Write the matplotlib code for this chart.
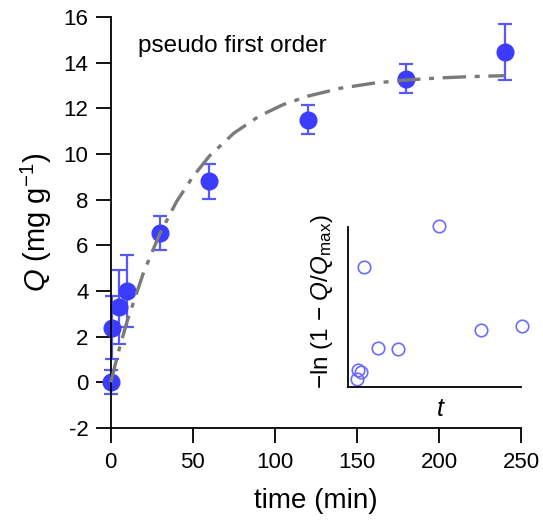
import matplotlib
matplotlib.use("Agg")
import matplotlib.pyplot as plt
import numpy as np

plt.rcParams['font.family'] = ['Liberation Sans', 'DejaVu Sans']
plt.rcParams['mathtext.fontset'] = 'custom'
plt.rcParams['mathtext.rm'] = 'Liberation Sans'
plt.rcParams['mathtext.it'] = 'Liberation Sans:italic'
plt.rcParams['axes.unicode_minus'] = False

# measured uptake Q (mg/g) vs time (min)
time_min = [0, 1, 5, 10, 30, 60, 120, 180, 240]
Q = [0.0, 2.4, 3.3, 4.0, 6.55, 8.8, 11.5, 13.3, 14.45]
Q_err = [0.52, 1.4, 1.6, 1.58, 0.75, 0.75, 0.64, 0.64, 1.23]

# pseudo first order fit curve
fit_t = [0, 5, 10, 20, 30, 40, 50, 60, 75, 90, 105, 120, 140, 160, 180, 200, 220, 240]
fit_Q = [0.0, 1.41, 2.67, 4.81, 6.52, 7.90, 9.0, 9.9, 10.91, 11.64, 12.16, 12.53,
         12.88, 13.1, 13.24, 13.33, 13.39, 13.43]

# inset: -ln(1 - Q/Qmax) vs t (arbitrary units)
inset_t = [0, 1, 5, 10, 30, 60, 120, 180, 240]
inset_y = [0.0, 0.18, 0.13, 2.23, 0.61, 0.60, 3.06, 0.97, 1.05]

blue = "#3c3cff"
fig = plt.figure(figsize=(5.43, 5.24), dpi=100)
ax = fig.add_axes([0.2039, 0.1832, 0.7556, 0.7844])

ax.plot(fit_t, fit_Q, color="#7a7a7a", linewidth=2.4, dashes=(7.0, 2.6, 1.5, 2.6),
        dash_capstyle="butt", zorder=3, clip_on=False)
ax.errorbar(time_min, Q, yerr=Q_err, fmt="o", color=blue, ecolor="#5858ff",
            markersize=12, elinewidth=1.6, capsize=4.8, capthick=1.6,
            zorder=2, clip_on=False)

ax.set_xlim(0, 250)
ax.set_ylim(-2, 16)
ax.set_xticks([0, 50, 100, 150, 200, 250])
ax.set_yticks(np.arange(-2, 17, 2))
for s in ["top", "right"]:
    ax.spines[s].set_visible(False)
for s in ["left", "bottom"]:
    ax.spines[s].set_linewidth(1.3)
ax.tick_params(direction="out", length=11, width=1.3, labelsize=16, pad=5)
ax.tick_params(axis="x", pad=6)
ax.set_xlabel("time (min)", fontsize=20, labelpad=11)
ax.set_ylabel(r"$\mathit{Q}$ (mg g$^{-1}$)", fontsize=21, labelpad=7)
ax.text(0.0665, 0.929, "pseudo first order", transform=ax.transAxes, fontsize=17.5,
        va="center", ha="left")

# inset
ins = fig.add_axes([0.6414, 0.2609, 0.3175, 0.3065])
ins.plot(inset_t, inset_y, "o", markerfacecolor="none", markeredgecolor="#6b6bff",
         markersize=9, markeredgewidth=1.2, clip_on=False)
ins.set_xlim(-13, 238.5)
ins.set_ylim(-0.166, 3.046)
ins.set_xticks([])
ins.set_yticks([])
ins.patch.set_alpha(0)
for s in ["top", "right"]:
    ins.spines[s].set_visible(False)
for s in ["left", "bottom"]:
    ins.spines[s].set_linewidth(1.3)
ins.set_xlabel(r"$\mathit{t}$", fontsize=18)
ins.xaxis.set_label_coords(0.54, -0.06)
ins.set_ylabel(r"$-$ln (1 $-$ $\mathit{Q}$/$\mathit{Q}_{\rm max}$)", fontsize=17.5)
ins.yaxis.set_label_coords(-0.075, 0.53)

fig.savefig("out.png", dpi=100)
